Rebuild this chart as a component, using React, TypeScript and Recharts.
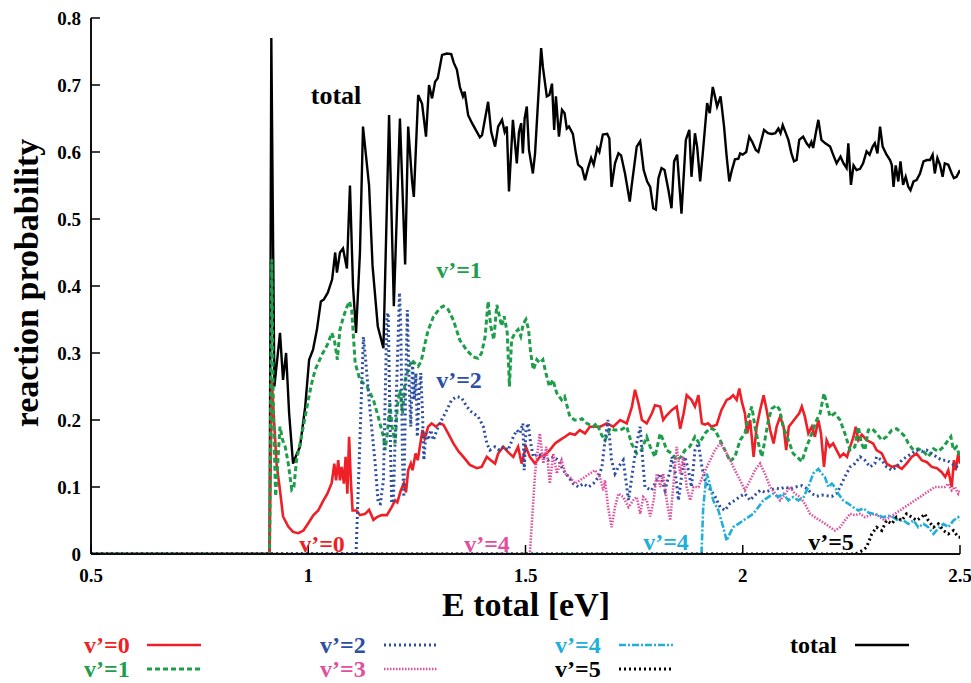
import { LineChart, Line, XAxis, YAxis } from 'recharts'

type Pt = [number, number]

const xTicks = [0.5, 1, 1.5, 2, 2.5]
const yTicks = [0, 0.1, 0.2, 0.3, 0.4, 0.5, 0.6, 0.7, 0.8]

// [E total (eV), reaction probability]
const total: Pt[] = [
  [0.5, 0], [0.911, 0], [0.915, 0.77], [0.922, 0.25], [0.935, 0.33], [0.942, 0.26], [0.949, 0.3], [0.956, 0.21],
  [0.965, 0.135], [0.974, 0.15], [0.981, 0.16], [0.993, 0.22], [1.002, 0.29], [1.011, 0.305], [1.02, 0.335],
  [1.029, 0.377], [1.036, 0.38], [1.045, 0.39], [1.055, 0.41], [1.062, 0.45], [1.066, 0.42], [1.073, 0.45],
  [1.08, 0.456], [1.089, 0.426], [1.096, 0.55], [1.103, 0.4], [1.11, 0.33], [1.119, 0.45], [1.126, 0.638],
  [1.14, 0.55], [1.148, 0.43], [1.16, 0.34], [1.173, 0.307], [1.186, 0.655], [1.197, 0.37], [1.211, 0.65],
  [1.223, 0.432], [1.23, 0.638], [1.239, 0.556], [1.243, 0.533], [1.253, 0.685], [1.262, 0.672], [1.271, 0.623],
  [1.278, 0.7], [1.285, 0.68], [1.292, 0.705], [1.298, 0.71], [1.308, 0.745], [1.319, 0.747], [1.329, 0.746],
  [1.335, 0.733], [1.342, 0.723], [1.349, 0.697], [1.356, 0.683], [1.36, 0.69], [1.368, 0.655], [1.377, 0.643],
  [1.388, 0.63], [1.395, 0.622], [1.4, 0.625], [1.414, 0.675], [1.421, 0.63], [1.43, 0.608], [1.437, 0.638],
  [1.446, 0.648], [1.452, 0.63], [1.457, 0.638], [1.462, 0.541], [1.471, 0.648], [1.48, 0.583], [1.485, 0.63],
  [1.49, 0.643], [1.494, 0.598], [1.498, 0.65], [1.503, 0.668], [1.508, 0.603], [1.517, 0.568], [1.522, 0.598],
  [1.536, 0.755], [1.54, 0.727], [1.549, 0.683], [1.555, 0.685], [1.561, 0.702], [1.566, 0.633], [1.57, 0.683],
  [1.577, 0.623], [1.584, 0.663], [1.59, 0.658], [1.595, 0.635], [1.6, 0.638], [1.609, 0.627], [1.616, 0.598],
  [1.621, 0.581], [1.63, 0.576], [1.637, 0.558], [1.644, 0.576], [1.651, 0.591], [1.657, 0.581], [1.665, 0.606],
  [1.67, 0.6], [1.678, 0.626], [1.688, 0.627], [1.693, 0.62], [1.698, 0.548], [1.706, 0.583], [1.714, 0.598],
  [1.72, 0.595], [1.729, 0.568], [1.74, 0.526], [1.744, 0.548], [1.756, 0.608], [1.764, 0.616], [1.772, 0.573],
  [1.78, 0.556], [1.787, 0.548], [1.794, 0.516], [1.8, 0.514], [1.806, 0.561], [1.813, 0.576], [1.82, 0.573],
  [1.829, 0.543], [1.836, 0.516], [1.842, 0.586], [1.849, 0.596], [1.859, 0.508], [1.869, 0.618], [1.877, 0.633],
  [1.882, 0.563], [1.89, 0.628], [1.895, 0.608], [1.902, 0.556], [1.908, 0.598], [1.918, 0.673], [1.924, 0.658],
  [1.931, 0.697], [1.936, 0.683], [1.941, 0.668], [1.949, 0.683], [1.957, 0.638], [1.963, 0.593], [1.969, 0.556],
  [1.975, 0.573], [1.982, 0.589], [1.99, 0.59], [1.994, 0.598], [2.0, 0.596], [2.008, 0.6], [2.015, 0.623],
  [2.022, 0.615], [2.03, 0.603], [2.036, 0.6], [2.043, 0.618], [2.049, 0.633], [2.058, 0.628], [2.067, 0.627],
  [2.075, 0.628], [2.082, 0.635], [2.087, 0.628], [2.092, 0.64], [2.098, 0.63], [2.105, 0.618], [2.112, 0.598],
  [2.118, 0.586], [2.124, 0.588], [2.13, 0.618], [2.139, 0.623], [2.147, 0.613], [2.153, 0.608], [2.158, 0.615],
  [2.162, 0.606], [2.168, 0.628], [2.174, 0.648], [2.181, 0.618], [2.19, 0.613], [2.201, 0.608], [2.208, 0.596],
  [2.216, 0.583], [2.225, 0.593], [2.232, 0.583], [2.239, 0.576], [2.243, 0.613], [2.249, 0.551], [2.255, 0.58],
  [2.262, 0.573], [2.27, 0.575], [2.277, 0.583], [2.285, 0.601], [2.292, 0.596], [2.299, 0.608], [2.304, 0.613],
  [2.31, 0.598], [2.316, 0.638], [2.322, 0.608], [2.331, 0.596], [2.339, 0.588], [2.343, 0.581], [2.347, 0.548],
  [2.352, 0.58], [2.358, 0.556], [2.363, 0.586], [2.369, 0.551], [2.375, 0.563], [2.381, 0.548], [2.386, 0.543],
  [2.393, 0.556], [2.4, 0.558], [2.408, 0.568], [2.416, 0.586], [2.424, 0.588], [2.431, 0.588], [2.437, 0.596],
  [2.442, 0.568], [2.448, 0.591], [2.454, 0.581], [2.46, 0.563], [2.465, 0.583], [2.473, 0.581], [2.481, 0.568],
  [2.486, 0.561], [2.492, 0.563], [2.5, 0.573],
]

const v0: Pt[] = [
  [0.5, 0], [0.911, 0], [0.916, 0.26], [0.927, 0.135], [0.935, 0.095], [0.942, 0.056], [0.954, 0.041], [0.965, 0.033],
  [0.977, 0.031], [0.989, 0.035], [1.0, 0.046], [1.012, 0.058], [1.023, 0.065], [1.035, 0.08], [1.044, 0.09],
  [1.054, 0.106], [1.06, 0.135], [1.064, 0.11], [1.069, 0.14], [1.073, 0.11], [1.077, 0.13], [1.082, 0.105],
  [1.086, 0.145], [1.09, 0.09], [1.094, 0.175], [1.098, 0.11], [1.102, 0.065], [1.111, 0.065], [1.119, 0.058],
  [1.131, 0.06], [1.14, 0.066], [1.15, 0.051], [1.158, 0.055], [1.169, 0.058], [1.181, 0.058], [1.192, 0.07],
  [1.2, 0.08], [1.205, 0.077], [1.213, 0.095], [1.22, 0.106], [1.225, 0.092], [1.23, 0.125], [1.236, 0.135],
  [1.24, 0.125], [1.247, 0.15], [1.252, 0.14], [1.258, 0.165], [1.263, 0.185], [1.268, 0.172], [1.276, 0.19],
  [1.284, 0.195], [1.294, 0.19], [1.303, 0.195], [1.311, 0.193], [1.322, 0.18], [1.334, 0.165], [1.346, 0.153],
  [1.357, 0.145], [1.372, 0.133], [1.388, 0.128], [1.399, 0.13], [1.411, 0.145], [1.42, 0.14], [1.43, 0.135],
  [1.437, 0.15], [1.449, 0.16], [1.46, 0.152], [1.472, 0.145], [1.483, 0.16], [1.491, 0.135], [1.501, 0.16],
  [1.51, 0.145], [1.522, 0.135], [1.533, 0.145], [1.545, 0.148], [1.556, 0.155], [1.568, 0.165], [1.579, 0.17],
  [1.591, 0.175], [1.602, 0.18], [1.614, 0.178], [1.625, 0.185], [1.637, 0.18], [1.648, 0.19], [1.66, 0.19],
  [1.672, 0.19], [1.687, 0.195], [1.702, 0.19], [1.718, 0.2], [1.733, 0.195], [1.745, 0.22], [1.752, 0.245],
  [1.76, 0.225], [1.768, 0.2], [1.779, 0.195], [1.791, 0.21], [1.798, 0.222], [1.81, 0.22], [1.817, 0.2],
  [1.825, 0.207], [1.837, 0.215], [1.848, 0.22], [1.856, 0.187], [1.864, 0.21], [1.871, 0.237], [1.882, 0.23],
  [1.89, 0.22], [1.898, 0.237], [1.906, 0.195], [1.913, 0.193], [1.92, 0.195], [1.928, 0.19], [1.94, 0.193],
  [1.951, 0.215], [1.963, 0.23], [1.97, 0.232], [1.978, 0.237], [1.986, 0.23], [1.992, 0.247], [1.998, 0.227],
  [2.005, 0.21], [2.01, 0.18], [2.017, 0.2], [2.025, 0.145], [2.032, 0.19], [2.04, 0.215], [2.048, 0.237],
  [2.055, 0.215], [2.063, 0.185], [2.071, 0.165], [2.078, 0.19], [2.086, 0.205], [2.094, 0.19], [2.1, 0.155],
  [2.106, 0.19], [2.118, 0.2], [2.13, 0.21], [2.136, 0.22], [2.143, 0.205], [2.151, 0.18], [2.159, 0.19],
  [2.166, 0.175], [2.174, 0.2], [2.18, 0.18], [2.187, 0.13], [2.193, 0.17], [2.2, 0.16], [2.208, 0.165],
  [2.216, 0.155], [2.224, 0.145], [2.232, 0.15], [2.24, 0.145], [2.247, 0.16], [2.255, 0.175], [2.26, 0.19],
  [2.266, 0.17], [2.274, 0.178], [2.285, 0.17], [2.3, 0.165], [2.308, 0.155], [2.32, 0.15], [2.331, 0.135],
  [2.343, 0.13], [2.354, 0.132], [2.366, 0.127], [2.377, 0.135], [2.389, 0.145], [2.4, 0.15], [2.412, 0.14],
  [2.424, 0.137], [2.435, 0.13], [2.447, 0.128], [2.458, 0.122], [2.466, 0.115], [2.473, 0.125], [2.481, 0.1],
  [2.486, 0.14], [2.49, 0.125], [2.496, 0.15], [2.5, 0.135],
]

const v1: Pt[] = [
  [0.5, 0], [0.911, 0], [0.916, 0.44], [0.92, 0.2], [0.925, 0.086], [0.935, 0.19], [0.941, 0.17], [0.947, 0.16],
  [0.954, 0.135], [0.962, 0.096], [0.967, 0.1], [0.973, 0.14], [0.981, 0.165], [0.993, 0.205], [1.0, 0.23],
  [1.008, 0.255], [1.016, 0.275], [1.023, 0.285], [1.031, 0.297], [1.039, 0.306], [1.046, 0.315], [1.054, 0.33],
  [1.06, 0.32], [1.067, 0.29], [1.073, 0.335], [1.081, 0.354], [1.089, 0.369], [1.095, 0.377], [1.1, 0.364],
  [1.108, 0.285], [1.119, 0.26], [1.135, 0.25], [1.15, 0.23], [1.161, 0.205], [1.173, 0.175], [1.177, 0.155],
  [1.182, 0.18], [1.188, 0.225], [1.193, 0.19], [1.2, 0.165], [1.205, 0.22], [1.211, 0.245], [1.217, 0.21],
  [1.223, 0.26], [1.23, 0.275], [1.238, 0.29], [1.245, 0.285], [1.253, 0.28], [1.26, 0.288], [1.269, 0.315],
  [1.276, 0.334], [1.288, 0.354], [1.303, 0.367], [1.311, 0.37], [1.322, 0.365], [1.334, 0.349], [1.349, 0.319],
  [1.365, 0.304], [1.38, 0.294], [1.391, 0.292], [1.399, 0.3], [1.407, 0.324], [1.414, 0.377], [1.42, 0.34],
  [1.427, 0.32], [1.434, 0.372], [1.44, 0.355], [1.445, 0.34], [1.451, 0.355], [1.458, 0.33], [1.463, 0.25],
  [1.468, 0.32], [1.476, 0.33], [1.483, 0.335], [1.489, 0.325], [1.495, 0.344], [1.501, 0.35], [1.507, 0.335],
  [1.512, 0.3], [1.518, 0.275], [1.526, 0.29], [1.533, 0.285], [1.54, 0.29], [1.547, 0.27], [1.555, 0.25],
  [1.563, 0.26], [1.572, 0.24], [1.583, 0.23], [1.59, 0.235], [1.602, 0.205], [1.613, 0.2], [1.622, 0.2],
  [1.63, 0.202], [1.641, 0.195], [1.656, 0.19], [1.664, 0.195], [1.675, 0.178], [1.683, 0.17], [1.695, 0.188],
  [1.705, 0.185], [1.718, 0.185], [1.733, 0.19], [1.744, 0.165], [1.756, 0.15], [1.767, 0.155], [1.779, 0.175],
  [1.787, 0.16], [1.798, 0.145], [1.81, 0.18], [1.817, 0.17], [1.825, 0.155], [1.837, 0.15], [1.848, 0.14],
  [1.858, 0.145], [1.867, 0.155], [1.878, 0.16], [1.89, 0.175], [1.9, 0.165], [1.913, 0.18], [1.925, 0.188],
  [1.936, 0.185], [1.948, 0.17], [1.959, 0.155], [1.971, 0.138], [1.982, 0.145], [1.994, 0.17], [2.005, 0.18],
  [2.013, 0.205], [2.021, 0.22], [2.028, 0.19], [2.036, 0.165], [2.044, 0.145], [2.051, 0.17], [2.059, 0.2],
  [2.067, 0.217], [2.078, 0.222], [2.085, 0.215], [2.093, 0.19], [2.105, 0.17], [2.116, 0.15], [2.128, 0.143],
  [2.136, 0.138], [2.147, 0.16], [2.159, 0.18], [2.17, 0.2], [2.178, 0.21], [2.187, 0.24], [2.193, 0.225],
  [2.201, 0.205], [2.212, 0.21], [2.224, 0.2], [2.235, 0.18], [2.247, 0.155], [2.258, 0.16], [2.266, 0.19],
  [2.273, 0.165], [2.281, 0.155], [2.289, 0.185], [2.298, 0.187], [2.308, 0.18], [2.32, 0.17], [2.331, 0.175],
  [2.343, 0.185], [2.354, 0.187], [2.366, 0.18], [2.374, 0.175], [2.381, 0.165], [2.393, 0.155], [2.404, 0.157],
  [2.416, 0.153], [2.427, 0.145], [2.439, 0.157], [2.45, 0.153], [2.462, 0.16], [2.473, 0.17], [2.479, 0.175],
  [2.485, 0.155], [2.492, 0.16], [2.5, 0.145],
]

const v2: Pt[] = [
  [0.5, 0], [1.11, 0], [1.127, 0.324], [1.132, 0.29], [1.142, 0.215], [1.154, 0.135], [1.161, 0.076], [1.166, 0.075],
  [1.173, 0.11], [1.181, 0.354], [1.184, 0.36], [1.188, 0.2], [1.192, 0.076], [1.196, 0.08], [1.202, 0.22],
  [1.21, 0.39], [1.213, 0.34], [1.217, 0.14], [1.22, 0.085], [1.225, 0.275], [1.228, 0.364], [1.232, 0.26],
  [1.236, 0.19], [1.24, 0.285], [1.244, 0.23], [1.248, 0.27], [1.251, 0.175], [1.255, 0.24], [1.259, 0.27],
  [1.263, 0.21], [1.266, 0.14], [1.271, 0.18], [1.276, 0.17], [1.282, 0.185], [1.288, 0.17], [1.296, 0.185],
  [1.307, 0.2], [1.319, 0.215], [1.33, 0.23], [1.342, 0.235], [1.353, 0.233], [1.365, 0.22], [1.376, 0.212],
  [1.391, 0.205], [1.403, 0.19], [1.411, 0.165], [1.418, 0.155], [1.43, 0.16], [1.44, 0.155], [1.45, 0.16],
  [1.46, 0.155], [1.472, 0.175], [1.48, 0.185], [1.487, 0.18], [1.494, 0.195], [1.497, 0.125], [1.501, 0.185],
  [1.506, 0.195], [1.512, 0.165], [1.518, 0.145], [1.53, 0.15], [1.541, 0.145], [1.553, 0.14], [1.564, 0.145],
  [1.576, 0.14], [1.587, 0.125], [1.599, 0.115], [1.61, 0.105], [1.622, 0.1], [1.633, 0.105], [1.645, 0.1],
  [1.656, 0.105], [1.668, 0.115], [1.676, 0.13], [1.683, 0.17], [1.69, 0.2], [1.698, 0.14], [1.706, 0.12],
  [1.714, 0.13], [1.725, 0.14], [1.737, 0.08], [1.748, 0.13], [1.756, 0.165], [1.764, 0.19], [1.771, 0.13],
  [1.775, 0.1], [1.79, 0.095], [1.81, 0.12], [1.821, 0.095], [1.833, 0.125], [1.837, 0.145], [1.845, 0.12],
  [1.852, 0.08], [1.86, 0.12], [1.867, 0.145], [1.875, 0.125], [1.882, 0.1], [1.89, 0.155], [1.898, 0.165],
  [1.906, 0.13], [1.913, 0.11], [1.921, 0.1], [1.936, 0.086], [1.948, 0.07], [1.959, 0.065], [1.971, 0.076],
  [1.982, 0.08], [1.994, 0.086], [2.005, 0.09], [2.017, 0.08], [2.028, 0.088], [2.04, 0.095], [2.051, 0.092],
  [2.063, 0.095], [2.075, 0.098], [2.086, 0.097], [2.098, 0.1], [2.109, 0.097], [2.121, 0.1], [2.136, 0.102],
  [2.147, 0.098], [2.159, 0.09], [2.17, 0.086], [2.182, 0.088], [2.193, 0.087], [2.205, 0.086], [2.216, 0.09],
  [2.224, 0.1], [2.235, 0.115], [2.247, 0.13], [2.258, 0.135], [2.27, 0.145], [2.281, 0.14], [2.293, 0.13],
  [2.304, 0.135], [2.308, 0.145], [2.32, 0.14], [2.331, 0.13], [2.343, 0.125], [2.354, 0.13], [2.366, 0.14],
  [2.377, 0.145], [2.389, 0.15], [2.4, 0.155], [2.412, 0.153], [2.423, 0.155], [2.435, 0.15], [2.446, 0.145],
  [2.458, 0.14], [2.47, 0.14], [2.481, 0.135], [2.492, 0.13], [2.5, 0.135],
]

const v3: Pt[] = [
  [0.5, 0], [1.51, 0], [1.522, 0.12], [1.533, 0.18], [1.541, 0.135], [1.548, 0.16], [1.556, 0.105], [1.564, 0.15],
  [1.572, 0.12], [1.583, 0.14], [1.592, 0.12], [1.602, 0.115], [1.614, 0.105], [1.625, 0.11], [1.637, 0.115],
  [1.648, 0.12], [1.66, 0.125], [1.671, 0.115], [1.679, 0.095], [1.683, 0.11], [1.69, 0.07], [1.698, 0.04],
  [1.706, 0.07], [1.714, 0.09], [1.725, 0.085], [1.737, 0.07], [1.748, 0.08], [1.756, 0.085], [1.764, 0.06],
  [1.771, 0.085], [1.779, 0.08], [1.787, 0.056], [1.795, 0.08], [1.802, 0.12], [1.81, 0.1], [1.817, 0.12],
  [1.825, 0.08], [1.833, 0.05], [1.84, 0.1], [1.848, 0.16], [1.856, 0.12], [1.863, 0.145], [1.871, 0.1],
  [1.879, 0.08], [1.887, 0.1], [1.898, 0.1], [1.91, 0.12], [1.925, 0.14], [1.936, 0.155], [1.948, 0.165],
  [1.959, 0.155], [1.971, 0.14], [1.982, 0.125], [1.994, 0.11], [2.005, 0.095], [2.017, 0.11], [2.028, 0.125],
  [2.04, 0.135], [2.051, 0.12], [2.063, 0.1], [2.075, 0.09], [2.086, 0.08], [2.098, 0.09], [2.109, 0.1],
  [2.12, 0.09], [2.132, 0.085], [2.143, 0.075], [2.155, 0.06], [2.166, 0.055], [2.178, 0.05], [2.19, 0.045],
  [2.201, 0.04], [2.212, 0.035], [2.224, 0.04], [2.235, 0.05], [2.247, 0.06], [2.258, 0.058], [2.27, 0.06],
  [2.281, 0.055], [2.293, 0.058], [2.304, 0.06], [2.316, 0.055], [2.327, 0.05], [2.339, 0.055], [2.35, 0.06],
  [2.362, 0.065], [2.373, 0.07], [2.385, 0.075], [2.396, 0.08], [2.408, 0.085], [2.419, 0.09], [2.431, 0.095],
  [2.442, 0.1], [2.454, 0.1], [2.465, 0.1], [2.473, 0.105], [2.481, 0.095], [2.488, 0.1], [2.496, 0.09],
  [2.5, 0.095],
]

const v4: Pt[] = [
  [0.5, 0], [1.905, 0], [1.909, 0.07], [1.917, 0.12], [1.922, 0.11], [1.932, 0.08], [1.944, 0.065], [1.955, 0.04],
  [1.963, 0.02], [1.97, 0.03], [1.978, 0.04], [1.99, 0.045], [2.001, 0.05], [2.013, 0.055], [2.024, 0.06],
  [2.036, 0.07], [2.047, 0.08], [2.059, 0.085], [2.07, 0.09], [2.082, 0.085], [2.093, 0.09], [2.105, 0.08],
  [2.116, 0.085], [2.128, 0.08], [2.14, 0.085], [2.151, 0.1], [2.162, 0.12], [2.174, 0.127], [2.182, 0.12],
  [2.189, 0.115], [2.197, 0.1], [2.205, 0.105], [2.212, 0.1], [2.22, 0.09], [2.231, 0.08], [2.243, 0.075],
  [2.254, 0.07], [2.266, 0.065], [2.278, 0.068], [2.289, 0.062], [2.3, 0.06], [2.312, 0.058], [2.323, 0.055],
  [2.335, 0.057], [2.346, 0.055], [2.358, 0.05], [2.37, 0.05], [2.381, 0.045], [2.393, 0.05], [2.404, 0.04],
  [2.416, 0.045], [2.427, 0.04], [2.439, 0.03], [2.45, 0.038], [2.462, 0.045], [2.473, 0.04], [2.485, 0.05],
  [2.496, 0.055], [2.5, 0.05],
]

const v5: Pt[] = [
  [0.5, 0], [2.26, 0], [2.275, 0.005], [2.285, 0.01], [2.297, 0.03], [2.308, 0.04], [2.32, 0.035], [2.331, 0.05],
  [2.343, 0.045], [2.354, 0.055], [2.366, 0.05], [2.377, 0.06], [2.389, 0.055], [2.4, 0.05], [2.412, 0.055],
  [2.419, 0.06], [2.427, 0.05], [2.439, 0.04], [2.45, 0.045], [2.462, 0.035], [2.473, 0.03], [2.485, 0.035],
  [2.496, 0.025], [2.5, 0.025],
]

const RED = '#ee1f26'
const GREEN = '#1e9e4a'
const BLUE = '#2c4ea3'
const PINK = '#e0509e'
const CYAN = '#21afd9'
const BLACK = '#000000'

const SERIES = [
  { id: 'total', name: 'total', pts: total, color: BLACK, width: 2.4, dash: undefined as string | undefined },
  { id: 'v0', name: 'v’=0', pts: v0, color: RED, width: 2.6, dash: undefined },
  { id: 'v1', name: 'v’=1', pts: v1, color: GREEN, width: 3, dash: '5 3' },
  { id: 'v2', name: 'v’=2', pts: v2, color: BLUE, width: 3, dash: '2 3' },
  { id: 'v3', name: 'v’=3', pts: v3, color: PINK, width: 2.6, dash: '1.5 1.5' },
  { id: 'v4', name: 'v’=4', pts: v4, color: CYAN, width: 2.6, dash: '7 2 2 2' },
  { id: 'v5', name: 'v’=5', pts: v5, color: BLACK, width: 3, dash: '2 3' },
]

// legend grid: column, row
const LEGEND = [
  { id: 'v0', col: 0, row: 0 },
  { id: 'v1', col: 0, row: 1 },
  { id: 'v2', col: 1, row: 0 },
  { id: 'v3', col: 1, row: 1 },
  { id: 'v4', col: 2, row: 0 },
  { id: 'v5', col: 2, row: 1 },
  { id: 'total', col: 3, row: 0 },
]

// in-plot labels (page pixels)
const NOTES = [
  { text: 'total', color: BLACK, x: 336, y: 104 },
  { text: 'v’=1', color: GREEN, x: 459, y: 278 },
  { text: 'v’=2', color: BLUE, x: 459, y: 388 },
  { text: 'v’=0', color: RED, x: 322, y: 552 },
  { text: 'v’=4', color: PINK, x: 487, y: 552 },
  { text: 'v’=4', color: CYAN, x: 666, y: 550 },
  { text: 'v’=5', color: BLACK, x: 831, y: 550 },
]

// body margin is removed so the chart spans the whole window
const W = 971
const H = 683
const FONT = '"Liberation Serif", "Times New Roman", serif'

const rows = (pts: Pt[]) => pts.map(([e, p]) => ({ e, p }))

const BottomTick = (props: any) => {
  const { x, y, payload } = props
  return (
    <g>
      <line x1={x} x2={x} y1={y} y2={y - 9} stroke="#000" strokeWidth={1.5} />
      <text x={x} y={y + 28} textAnchor="middle" fontFamily={FONT} fontWeight="bold" fontSize={19} fill="#000">
        {String(payload.value)}
      </text>
    </g>
  )
}

const TopTick = (props: any) => {
  const { x, y } = props
  return <line x1={x} x2={x} y1={y} y2={y + 9} stroke="#000" strokeWidth={1.5} />
}

const LeftTick = (props: any) => {
  const { x, y, payload } = props
  return (
    <g>
      <line x1={x} x2={x + 9} y1={y} y2={y} stroke="#000" strokeWidth={1.5} />
      <text x={x - 10} y={y + 6.5} textAnchor="end" fontFamily={FONT} fontWeight="bold" fontSize={19} fill="#000">
        {String(payload.value)}
      </text>
    </g>
  )
}

const RightTick = (props: any) => {
  const { x, y } = props
  return <line x1={x} x2={x - 9} y1={y} y2={y} stroke="#000" strokeWidth={1.5} />
}

const axisLine = { stroke: '#111', strokeWidth: 2 }

export default function App() {
  const colX = [84, 320, 555, 790]
  const colLine = [147, 384, 619, 855]
  const rowText = [653, 677]
  const rowLine = [645, 669]
  return (
    <div style={{ position: 'relative', width: W, height: H, background: '#fff', overflow: 'hidden' }}>
      <style>{'body { margin: 0; }'}</style>
      <LineChart width={W} height={H} margin={{ top: 18, right: 11, bottom: 99, left: 0 }}>
        <XAxis
          xAxisId="b"
          type="number"
          dataKey="e"
          domain={[0.5, 2.5]}
          ticks={xTicks}
          interval={0}
          allowDataOverflow
          height={30}
          tickSize={0}
          tickMargin={0}
          tick={BottomTick}
          axisLine={axisLine}
        />
        <XAxis
          xAxisId="t"
          orientation="top"
          type="number"
          dataKey="e"
          domain={[0.5, 2.5]}
          ticks={xTicks}
          interval={0}
          allowDataOverflow
          height={0}
          tickSize={0}
          tickMargin={0}
          tick={TopTick}
          axisLine={axisLine}
        />
        <YAxis
          yAxisId="l"
          type="number"
          domain={[0, 0.8]}
          ticks={yTicks}
          interval={0}
          allowDataOverflow
          width={91}
          tickSize={0}
          tickMargin={0}
          tick={LeftTick}
          axisLine={axisLine}
        />
        <YAxis
          yAxisId="r"
          orientation="right"
          type="number"
          domain={[0, 0.8]}
          ticks={yTicks}
          interval={0}
          allowDataOverflow
          width={0}
          tickSize={0}
          tickMargin={0}
          tick={RightTick}
          axisLine={axisLine}
        />
        {SERIES.map(s => (
          <Line
            key={s.id}
            xAxisId="b"
            yAxisId="l"
            data={rows(s.pts)}
            dataKey="p"
            type="linear"
            stroke={s.color}
            strokeWidth={s.width}
            strokeDasharray={s.dash}
            dot={false}
            activeDot={false}
            isAnimationActive={false}
          />
        ))}
      </LineChart>
      <svg
        width={W}
        height={H}
        style={{ position: 'absolute', left: 0, top: 0, pointerEvents: 'none' }}
        fontFamily={FONT}
        fontWeight="bold"
      >
        <text transform="translate(38,283) rotate(-90)" textAnchor="middle" fontSize={34} fill="#000">
          reaction probability
        </text>
        <text x={526} y={616} textAnchor="middle" fontSize={34} fill="#000">
          E total [eV]
        </text>
        {NOTES.map((n, i) => (
          <text key={i} x={n.x} y={n.y} textAnchor="middle" fontSize={n.text === 'total' ? 26 : 24} fill={n.color}>
            {n.text}
          </text>
        ))}
        {LEGEND.map(item => {
          const s = SERIES.find(d => d.id === item.id)!
          return (
            <g key={item.id}>
              <text x={colX[item.col]} y={rowText[item.row]} fontSize={24} fill={s.color}>
                {s.name}
              </text>
              <line
                x1={colLine[item.col]}
                x2={colLine[item.col] + 54}
                y1={rowLine[item.row]}
                y2={rowLine[item.row]}
                stroke={s.color}
                strokeWidth={s.width}
                strokeDasharray={s.dash}
              />
            </g>
          )
        })}
      </svg>
    </div>
  )
}
